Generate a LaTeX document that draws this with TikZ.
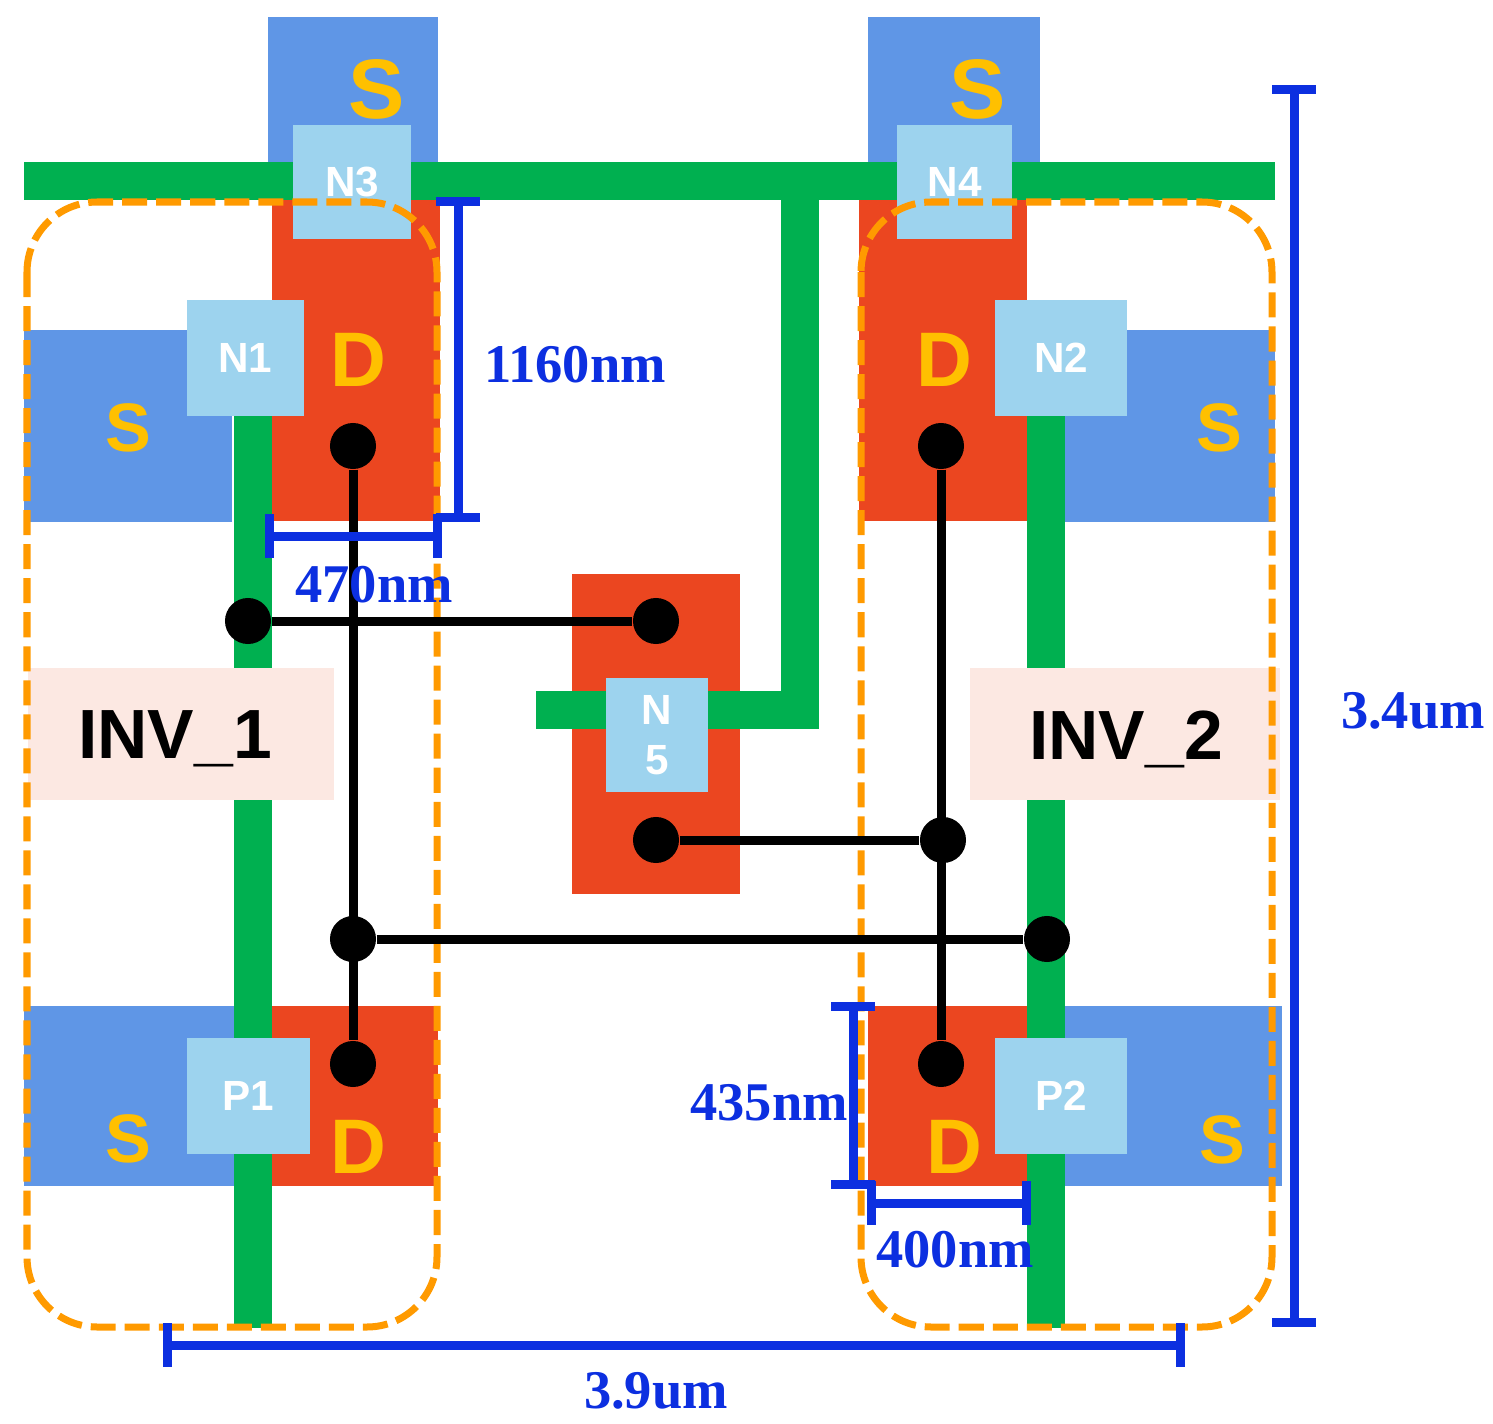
\documentclass[tikz,border=0pt]{standalone}
\usepackage{fontspec}
\setmainfont{Liberation Sans}
\newfontfamily\dimfont{Liberation Serif}
\usetikzlibrary{arrows.meta, positioning}
\definecolor{gategreen}{HTML}{00B050}
\definecolor{srcblue}{HTML}{5F96E6}
\definecolor{drainred}{HTML}{EB4620}
\definecolor{contactblue}{HTML}{9DD3EE}
\definecolor{invorange}{HTML}{FF9A00}
\definecolor{lettergold}{HTML}{FFC000}
\definecolor{dimblue}{HTML}{0C2FE0}
\definecolor{invpink}{HTML}{FCE8E2}

\begin{document}
\begin{tikzpicture}[
    x=0.01cm, y=-0.01cm,
    block/.style={
        rectangle,
        inner sep=0pt,
        minimum width=#1
    },
    src/.style={block=#1, fill=srcblue},
    drain/.style={block=#1, fill=drainred},
    contact/.style={
        block=#1,
        fill=contactblue,
        text=white,
        font=\bfseries\fontsize{12}{14.2}\selectfont,
        align=center
    },
    invbox/.style={
        block=#1,
        fill=invpink,
        minimum height=1.31cm
    },
    invtext/.style={
        inner sep=0pt,
        font=\bfseries\fontsize{19.8}{24}\selectfont
    },
    letter/.style={
        text=lettergold,
        inner sep=0pt,
        font=\bfseries\fontsize{#1}{24}\selectfont
    },
    gate/.style={
        gategreen,
        line width=0.38cm
    },
    pin/.style={
        circle,
        fill=black,
        inner sep=0pt,
        minimum size=0.46cm
    },
    wire/.style={
        black,
        line width=0.09cm
    },
    invline/.style={
        invorange,
        dash pattern=on 0.25cm off 0.09cm,
        line width=0.07cm,
        rounded corners=0.7cm
    },
    dimbar/.style={
        {Bar[width=0.43cm,line width=0.09cm]}-{Bar[width=0.43cm,line width=0.09cm]},
        dimblue,
        line width=0.09cm
    },
    dimtext/.style={
        text=dimblue,
        inner sep=0pt,
        font=\dimfont\bfseries\fontsize{15.5}{18}\selectfont
    }
]
\useasboundingbox (0,0) rectangle (1493,1424);

% Source and drain areas
\node[src=1.70cm, minimum height=1.48cm] (s3) at (353,91) {};
\node[src=1.72cm, minimum height=1.48cm] (s4) at (954,91) {};
\node[src=2.08cm, minimum height=1.92cm] (s1) at (128,426) {};
\node[src=2.10cm, minimum height=1.92cm] (s2) at (1170,426) {};
\node[src=2.48cm, minimum height=1.80cm] (s5) at (148,1096) {};
\node[src=2.54cm, minimum height=1.80cm] (s6) at (1155,1096) {};
\node[drain=1.68cm, minimum height=3.21cm] (d1) at (356,360) {};
\node[drain=1.68cm, minimum height=3.21cm] (d2) at (943,360) {};
\node[drain=1.66cm, minimum height=1.80cm] (d3) at (355,1096) {};
\node[drain=1.59cm, minimum height=1.80cm] (d4) at (948,1096) {};
\node[drain=1.68cm, minimum height=3.20cm] (d5) at (656,734) {};

% Gates
\coordinate (gl) at (24,181);
\coordinate (gr) at (1275,181);
\coordinate (gj) at (800,181);
\coordinate (gc) at (800,710);
\coordinate (ge) at (536,710);
\draw[gate] (gl) -- (gr);
\draw[gate] (gj) -- (gc) -- (ge);
\draw[gate] (253,415) -- (253,1328);
\draw[gate] (1046,415) -- (1046,1328);

% Contacts
\node[contact=1.18cm, minimum height=1.14cm] (n3) at (352,182) {N3};
\node[contact=1.15cm, minimum height=1.14cm] (n4) at (954.5,182) {N4};
\node[contact=1.17cm, minimum height=1.15cm] (n1) at (245.5,358) {N1};
\node[contact=1.32cm, minimum height=1.15cm] (n2) at (1061,358) {N2};
\node[contact=1.23cm, minimum height=1.15cm] (p1) at (248.5,1096) {P1};
\node[contact=1.32cm, minimum height=1.15cm] (p2) at (1061,1096) {P2};
\node[contact=1.02cm, minimum height=1.13cm] (n5) at (657,735) {N\\5};

% Letters
\node[letter=24] (ls3) at (377,89) {S};
\node[letter=24] (ls4) at (978,89) {S};
\node[letter=19.5] (ls1) at (128,428) {S};
\node[letter=19.5] (ls2) at (1219,428) {S};
\node[letter=19.5] (ls5) at (128,1139) {S};
\node[letter=19.5] (ls6) at (1222,1140) {S};
\node[letter=22] (ld1) at (358,360) {D};
\node[letter=22] (ld2) at (944,360) {D};
\node[letter=22] (ld3) at (358,1147) {D};
\node[letter=22] (ld4) at (954,1147) {D};

% Inverter labels
\node[invbox=3.05cm] (inv1) at (181,734) {};
\node[invbox=3.10cm] (inv2) at (1125,734) {};
\node[invtext] (inv1t) at (175,739) {INV\_1};
\node[invtext] (inv2t) at (1126,739) {INV\_2};

% Inverter outlines
\draw[invline] (27,202) rectangle (437,1327);
\draw[invline] (861,202) rectangle (1272,1327);

% Wires
\node[pin] (a1) at (353,446) {};
\node[pin] (a2) at (941,446) {};
\node[pin] (b1) at (248,621) {};
\node[pin] (b2) at (656,621) {};
\node[pin] (c1) at (656,840) {};
\node[pin] (c2) at (943,840) {};
\node[pin] (e1) at (353,939) {};
\node[pin] (e2) at (1047,939) {};
\node[pin] (f1) at (353,1064) {};
\node[pin] (f2) at (941,1064) {};
\draw[wire] (a1) -- (f1);
\draw[wire] (a2) -- (f2);
\draw[wire] (b1) -- (b2);
\draw[wire] (c1) -- (c2);
\draw[wire, yshift=0.02cm] (e1) -- (e2);

% Dimensions
\coordinate (h1) at (458,197);
\coordinate (h2) at (458,522);
\coordinate (w1) at (265,536);
\coordinate (w2) at (442,536);
\coordinate (h3) at (853,1002);
\coordinate (h4) at (853,1189);
\coordinate (w3) at (867,1203);
\coordinate (w4) at (1031,1203);
\coordinate (h5) at (1294,85);
\coordinate (h6) at (1294,1327);
\coordinate (w5) at (163,1345);
\coordinate (w6) at (1185,1345);
\draw[dimbar] (h1) -- (h2);
\draw[dimbar] (w1) -- (w2);
\draw[dimbar] (h3) -- (h4);
\draw[dimbar] (w3) -- (w4);
\draw[dimbar] (h5) -- (h6);
\draw[dimbar] (w5) -- (w6);
\node[dimtext] (t1) at (575,365) {1160nm};
\node[dimtext] (t2) at (374,585) {470nm};
\node[dimtext] (t3) at (769,1103) {435nm};
\node[dimtext] (t4) at (955,1250) {400nm};
\node[dimtext] (t5) at (1413,711) {3.4um};
\node[dimtext] (t6) at (656,1391) {3.9um};

\end{tikzpicture}
\end{document}
